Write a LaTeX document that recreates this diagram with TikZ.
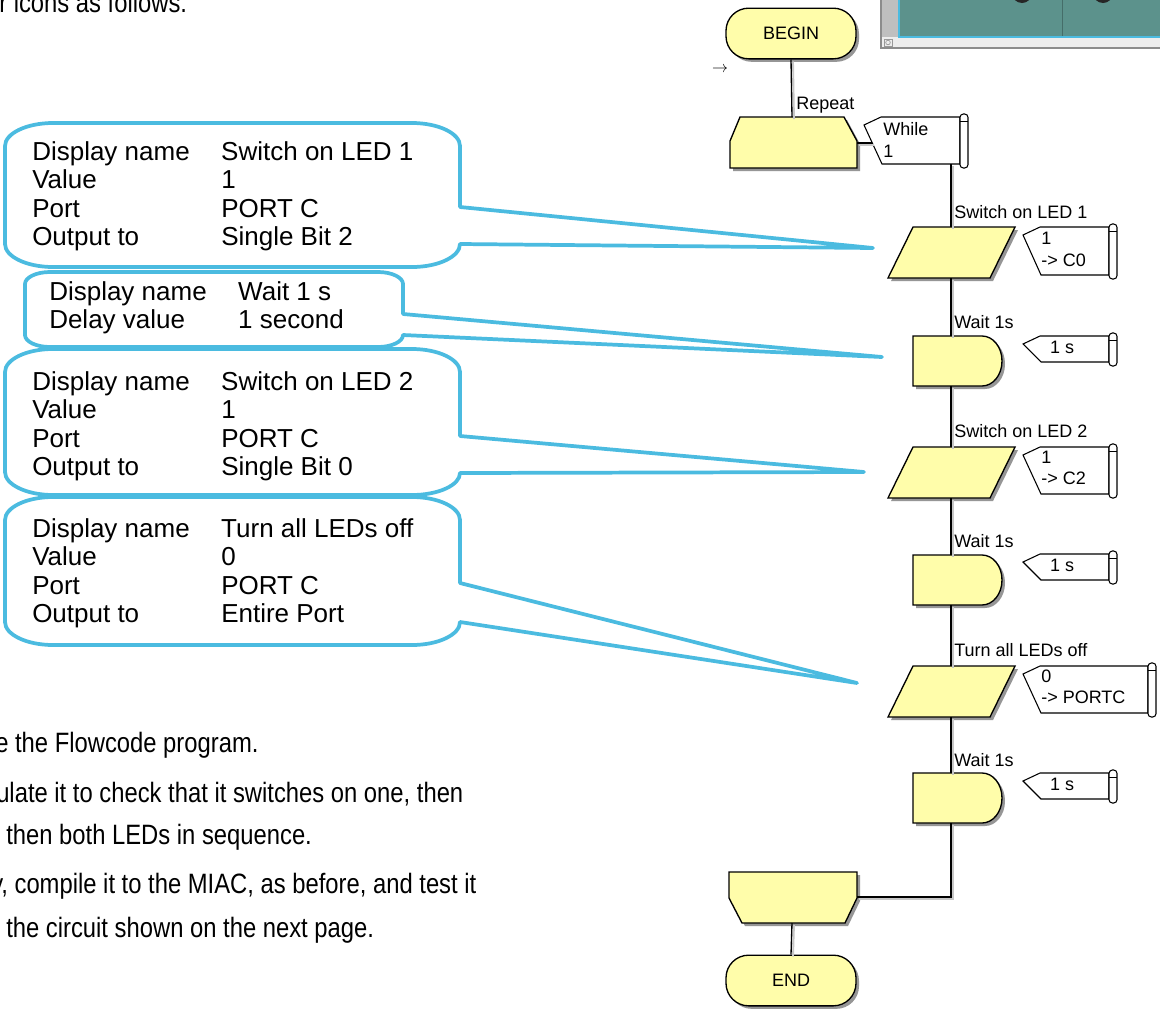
\documentclass[tikz,border=0pt]{standalone}
\usepackage{fontspec}
\setmainfont{Liberation Sans}
\newfontfamily\narrowsans[FakeStretch=0.85]{Liberation Sans}
\usetikzlibrary{shadows}

\definecolor{blockfill}{RGB}{255,253,170}
\definecolor{calloutblue}{RGB}{75,187,224}
\definecolor{screenteal}{RGB}{92,146,140}
\definecolor{shadowgray}{RGB}{150,150,150}

\tikzset{
  block/.style={draw=black, line width=1pt, fill=blockfill},
  blockshadow/.style={fill=shadowgray, draw=none},
  wire/.style={draw=black, line width=1pt},
  wireshadow/.style={draw=black!22, line width=1.4pt},
  flag/.style={draw=black, line width=0.8pt, fill=white},
  fctext/.style={font=\fontsize{13.5}{15}\selectfont, inner sep=0pt, anchor=base west},
  callout/.style={draw=calloutblue, line width=2.8pt, fill=white, line join=round},
  infotext/.style={font=\fontsize{19.5}{21.4}\selectfont, inner sep=0pt, anchor=base west},
  bodytext/.style={font=\narrowsans\fontsize{21}{25}\selectfont, inner sep=0pt, anchor=base west},
  terminator/.style={draw=black, line width=1pt, fill=blockfill, rounded corners=17pt,
    minimum width=97.5pt, minimum height=38pt, inner sep=0pt, font=\fontsize{13.5}{15}\selectfont,
    drop shadow={shadow xshift=2.25pt, shadow yshift=-2.25pt, fill=shadowgray, opacity=1}},
  % output icon (parallelogram), origin at top centre
  iobox/.pic={
    \path[blockshadow] (-35,3) -- (67,3) -- (42,54) -- (-60,54) -- cycle;
    \path[block] (-38,0) -- (64,0) -- (39,51) -- (-63,51) -- cycle;
    \coordinate (-top) at (0,0);
    \coordinate (-bot) at (0,51);
  },
  % delay icon (D shape), origin at top centre
  delaybox/.pic={
    \path[blockshadow] (-35,3) -- (34,3) .. controls (45,3) and (54,14) .. (54,28)
      .. controls (54,42) and (45,53) .. (34,53) -- (-35,53) -- cycle;
    \path[block] (-38,0) -- (31,0) .. controls (42,0) and (51,11) .. (51,25)
      .. controls (51,39) and (42,50) .. (31,50) -- (-38,50) -- cycle;
    \coordinate (-top) at (0,0);
    \coordinate (-bot) at (0,50);
  },
}

% property flag with its scroll: #1 name, #2 notch x, #3 top, #4 bottom, #5 right
\newcommand{\flagbox}[5]{%
  \path[flag] ({#2+17},#3) -- (#5,#3) -- (#5,#4) -- ({#2+18},#4) -- (#2,{#3+8}) -- cycle;
  \path[flag, rounded corners=2.5pt] (#5,{#3-3}) rectangle ({#5+8},{#4+4});
  \draw[line width=0.6pt] (#5,{#3+4}) -- ({#5+8},{#3+4});
  \coordinate (#1) at (#2,{#3+8});
}

% rounded callout with a wedge tail on its right side:
% #1 left, #2 top, #3 right, #4 bottom, #5 #6 tail roots, #7 tail tip
\newcommand{\infocallout}[7]{%
  \path[callout] ({#1+\cornerx},#2) -- ({#3-\cornerx},#2)
    .. controls ({#3-0.45*\cornerx},#2) and (#3,{#2+0.45*\cornery}) .. (#3,{#2+\cornery})
    -- (#3,#5) -- #7 -- (#3,#6)
    .. controls (#3,{#6+0.55*(#4-#6)}) and ({#3-0.45*\cornerx},#4) .. ({#3-\cornerx},#4)
    -- ({#1+\cornerx},#4)
    .. controls ({#1+0.45*\cornerx},#4) and (#1,{#4-0.45*\cornery}) .. (#1,{#4-\cornery})
    -- (#1,{#2+\cornery})
    .. controls (#1,{#2+0.45*\cornery}) and ({#1+0.45*\cornerx},#2) .. ({#1+\cornerx},#2) -- cycle;
}

\begin{document}
\begin{tikzpicture}[x=0.75pt, y=-0.75pt]
\useasboundingbox (0,0) rectangle (1160,1011);
\clip (0,0) rectangle (1160,1011);
\fill[white] (0,0) rectangle (1160,1011);

% ---- corner of the simulation window ----
\fill[black!7] (881,-2) rectangle (1162,48);
\fill[black!25] (881,-2) rectangle (899,37);
\fill[screenteal] (899,-2) rectangle (1162,37);
\draw[screenteal!75!black, line width=0.6pt] (1062,-2) -- (1062,37);
\draw[calloutblue, line width=0.8pt] (899,-2) -- (899,37) -- (1162,37);
\fill[black!85] (1022,-7) circle[radius=10];
\fill[black!85] (1103,-7) circle[radius=10];
\draw[black!45, line width=0.8pt] (881,-2) -- (881,48) -- (1162,48);
\draw[black!40, line width=0.5pt] (884,39) rectangle (892,46);
\draw[black!40, line width=0.5pt] (888,42.5) circle[radius=2.3];

% ---- surrounding text ----
\node[bodytext] (t0) at (-1,12) {r icons as follows.};
\node[bodytext] (t1) at (-5,752) {e the Flowcode program.};
\node[bodytext] (t2) at (-4,802) {ulate it to check that it switches on one, then};
\node[bodytext] (t3) at (6,844) {then both LEDs in sequence.};
\node[bodytext] (t4) at (-9,893) {y, compile it to the MIAC, as before, and test it};
\node[bodytext] (t5) at (6,937) {the circuit shown on the next page.};

% ---- flowchart ----
\node[terminator] (startterm) at (791,33.5) {BEGIN};
\node (cursor) at (720,70) {\fontsize{13}{15}\selectfont$\rightarrow$};

% loop start block
\path[blockshadow] (743,120) -- (847,120) -- (860,144) -- (860,171) -- (733,171) -- (733,144) -- cycle;
\path[block] (740,117) -- (844,117) -- (857,141) -- (857,168) -- (730,168) -- (730,141) -- cycle;
\coordinate (rep-top) at (792,117);
\coordinate (rep-right) at (857,143);
\node[fctext] (lblrep) at (796,109) {Repeat};

% loop end block
\path[blockshadow] (732,875) -- (860,875) -- (860,901) -- (848,926) -- (745,926) -- (732,901) -- cycle;
\path[block] (729,872) -- (857,872) -- (857,898) -- (845,923) -- (742,923) -- (729,898) -- cycle;
\coordinate (endloop-right) at (857,897);
\coordinate (endloop-bot) at (792,923);

\node[terminator] (endterm) at (791,980.5) {END};

% loop condition flag
\flagbox{whileflag}{864}{117}{164}{960}
\coordinate (whileflag-link) at (872,143);
\coordinate (whileflag-bot) at (951,164);
\node[fctext] (whiletxt) at (883,135) {While};
\node[fctext] (whileval) at (883,157) {1};

% icons inside the loop
\pic (sw1) at (951,227) {iobox};
\pic (w1)  at (951,336) {delaybox};
\pic (sw2) at (951,447) {iobox};
\pic (w2)  at (951,555) {delaybox};
\pic (off) at (951,666) {iobox};
\pic (w3)  at (951,773) {delaybox};

\node[fctext] (lblsw1) at (954,218) {Switch on LED 1};
\node[fctext] (lblw1)  at (954,328) {Wait 1s};
\node[fctext] (lblsw2) at (954,437) {Switch on LED 2};
\node[fctext] (lblw2)  at (954,547) {Wait 1s};
\node[fctext] (lbloff) at (954,656) {Turn all LEDs off};
\node[fctext] (lblw3)  at (954,766) {Wait 1s};

% property flags of the icons
\flagbox{sw1flag}{1023}{227}{275}{1109}
\node[fctext] (sw1v) at (1041,244) {1};
\node[fctext] (sw1p) at (1041,266) {-> C0};
\flagbox{w1flag}{1023}{336}{362}{1109}
\node[fctext, anchor=base] (w1v) at (1062,353) {1 s};
\flagbox{sw2flag}{1023}{447}{494}{1109}
\node[fctext] (sw2v) at (1041,463) {1};
\node[fctext] (sw2p) at (1041,484) {-> C2};
\flagbox{w2flag}{1023}{554}{580}{1109}
\node[fctext, anchor=base] (w2v) at (1062,571) {1 s};
\flagbox{offflag}{1023}{666}{713}{1148}
\node[fctext] (offv) at (1041,682) {0};
\node[fctext] (offp) at (1041,703) {-> PORTC};
\flagbox{w3flag}{1023}{773}{799}{1109}
\node[fctext, anchor=base] (w3v) at (1062,790) {1 s};

% connectors (light offset line first, then the black line)
\begin{scope}[wireshadow, transform canvas={shift={(1.5pt,-1.5pt)}}]
  \draw (startterm.south) -- (rep-top);
  \draw (rep-right) -- (whileflag-link);
  \draw (whileflag-bot) -- (sw1-top);
  \draw (sw1-bot) -- (w1-top);
  \draw (w1-bot) -- (sw2-top);
  \draw (sw2-bot) -- (w2-top);
  \draw (w2-bot) -- (off-top);
  \draw (off-bot) -- (w3-top);
  \draw (w3-bot) |- (endloop-right);
  \draw (endloop-bot) -- (endterm.north);
\end{scope}
\draw[wire] (startterm.south) -- (rep-top);
\draw[wire] (rep-right) -- (whileflag-link);
\draw[wire] (whileflag-bot) -- (sw1-top);
\draw[wire] (sw1-bot) -- (w1-top);
\draw[wire] (w1-bot) -- (sw2-top);
\draw[wire] (sw2-bot) -- (w2-top);
\draw[wire] (w2-bot) -- (off-top);
\draw[wire] (off-bot) -- (w3-top);
\draw[wire] (w3-bot) |- (endloop-right);
\draw[wire] (endloop-bot) -- (endterm.north);

% ---- callouts ----
\coordinate (tip1) at (873,248);
\coordinate (tip2) at (882,357);
\coordinate (tip3) at (864,472);
\coordinate (tip4) at (857,683);

\def\cornerx{48}\def\cornery{23}
\infocallout{5}{123}{460}{267}{207}{244}{(tip1)}
\def\cornerx{25}\def\cornery{12}
\infocallout{25}{272}{403}{347}{314}{335}{(tip2)}
\def\cornerx{48}\def\cornery{23}
\infocallout{5}{349}{460}{495}{436}{473}{(tip3)}
\infocallout{5}{497}{460}{645}{583}{622}{(tip4)}

\node[infotext] (info1) at (32,160) {\begin{tabular}[t]{@{}p{141.75pt}@{}l@{}}
Display name & Switch on LED 1\\
Value & 1\\
Port & PORT C\\
Output to & Single Bit 2
\end{tabular}};
\node[infotext] (info2) at (49,300) {\begin{tabular}[t]{@{}p{141.75pt}@{}l@{}}
Display name & Wait 1 s\\
Delay value & 1 second
\end{tabular}};
\node[infotext] (info3) at (32,390) {\begin{tabular}[t]{@{}p{141.75pt}@{}l@{}}
Display name & Switch on LED 2\\
Value & 1\\
Port & PORT C\\
Output to & Single Bit 0
\end{tabular}};
\node[infotext] (info4) at (32,537) {\begin{tabular}[t]{@{}p{141.75pt}@{}l@{}}
Display name & Turn all LEDs off\\
Value & 0\\
Port & PORT C\\
Output to & Entire Port
\end{tabular}};
\end{tikzpicture}
\end{document}
